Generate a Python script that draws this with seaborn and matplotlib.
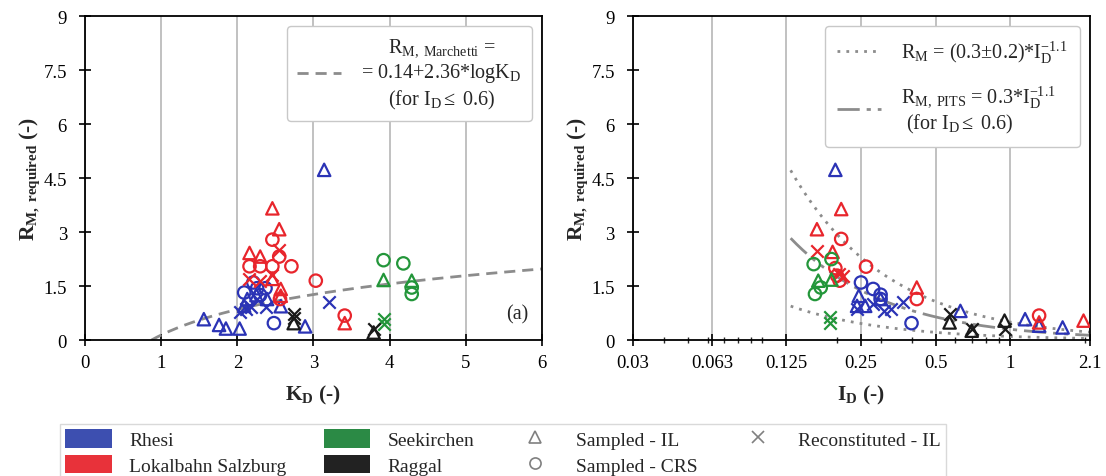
import matplotlib
matplotlib.use("Agg")
from matplotlib import pyplot as plt
from matplotlib.patches import Patch
from matplotlib.lines import Line2D
from matplotlib.ticker import FixedLocator, NullFormatter, LogLocator
import numpy as np
import pandas as pd
import seaborn as sns

# --- data ---
SITES = ["Rhesi", "Lokalbahn Salzburg", "Seekirchen", "Raggal"]
TESTS = ["Sampled - IL", "Sampled - CRS", "Reconstituted - IL"]
SITE_COLORS = ["#2b33b5", "#e8252c", "#23963a", "#1a1a1a"]
PATCH_COLORS = ["#3d4fb0", "#e8323a", "#2b8a45", "#222222"]
TEST_MARKERS = ["^", "o", "x"]

# panel (a): K_D vs R_M
KD = [1.56, 1.76, 1.85, 2.03, 2.57, 2.89, 3.14, 2.09, 2.13, 2.39, 2.25,
      2.48, 2.09, 2.26, 2.21, 2.37, 2.30,
      2.04, 2.18, 2.26, 2.37, 3.20, 2.12,
      2.46, 2.55, 2.16, 2.30, 2.46, 2.57, 2.57, 3.41,
      2.46, 2.55, 2.16, 2.30, 2.46, 2.71, 3.03, 2.56, 3.41,
      2.15, 2.30, 2.46, 2.55,
      3.92, 4.29,
      3.92, 4.18, 4.29, 4.29,
      3.92, 3.92,
      2.74, 3.79,
      2.74, 3.79, 2.74]
RM_A = [0.58, 0.42, 0.32, 0.32, 0.94, 0.38, 4.73, 0.95, 1.14, 1.14, 1.25,
        0.47, 1.32, 1.44, 1.60, 1.44, 1.25,
        0.77, 0.91, 1.14, 0.91, 1.06, 0.85,
        3.66, 3.08, 2.42, 2.32, 1.70, 1.42, 1.23, 0.47,
        2.79, 2.32, 2.05, 2.05, 2.05, 2.05, 1.65, 1.14, 0.68,
        1.69, 1.65, 1.80, 2.50,
        1.67, 1.65,
        2.22, 2.13, 1.46, 1.28,
        0.58, 0.44,
        0.47, 0.21,
        0.72, 0.30, 0.62]
SITE_A = ([0] * 23) + ([1] * 21) + ([2] * 8) + ([3] * 5)
TEST_A = ([0] * 11 + [1] * 6 + [2] * 6
          + [0] * 8 + [1] * 9 + [2] * 4
          + [0] * 2 + [1] * 4 + [2] * 2
          + [0] * 2 + [2] * 3)

# panel (b): I_D vs R_M
ID = [0.197, 0.241, 0.26, 0.245, 0.63, 1.15, 1.63, 1.31, 0.30,
      0.25, 0.28, 0.30, 0.40, 0.30,
      0.24, 0.28, 0.31, 0.33, 0.37,
      0.166, 0.208, 0.192, 0.42, 1.98, 1.31,
      0.208, 0.262, 0.197, 0.42, 1.31, 0.20, 0.205,
      0.166, 0.203, 0.211,
      0.168, 0.19,
      0.161, 0.19, 0.163, 0.172,
      0.188, 0.188,
      0.57, 0.70, 0.95,
      0.57, 0.70, 0.95]
RM_B = [4.73, 0.95, 0.95, 1.23, 0.81, 0.58, 0.35, 0.40, 1.14,
        1.60, 1.42, 1.26, 0.47, 1.14,
        0.86, 1.00, 0.81, 0.86, 1.06,
        3.08, 3.64, 2.45, 1.46, 0.54, 0.49,
        2.81, 2.04, 2.00, 1.14, 0.68, 1.79, 1.65,
        2.48, 1.83, 1.79,
        1.65, 1.68,
        2.11, 2.25, 1.28, 1.46,
        0.63, 0.47,
        0.49, 0.26, 0.54,
        0.72, 0.32, 0.31]
SITE_B = ([0] * 19) + ([1] * 16) + ([2] * 8) + ([3] * 6)
TEST_B = ([0] * 9 + [1] * 5 + [2] * 5
          + [0] * 6 + [1] * 7 + [2] * 3
          + [0] * 2 + [1] * 4 + [2] * 2
          + [0] * 3 + [2] * 3)

# fitted relations given in the legends
MARCHETTI_A, MARCHETTI_B = 0.14, 2.36
PITS_C, PITS_SPREAD, PITS_EXP = 0.3, 0.2, -1.1

X_TICKS_B = [0.03, 0.0625, 0.125, 0.25, 0.5, 1, 2.1]
X_LABELS_B = ["0.03", "0.063", "0.125", "0.25", "0.5", "1", "2.1"]
Y_TICKS = [0, 1.5, 3, 4.5, 6, 7.5, 9]
Y_LABELS = ["0", "1.5", "3", "4.5", "6", "7.5", "9"]

sns.set_style("white")
plt.rcParams["font.family"] = ["Liberation Serif", "DejaVu Serif"]
plt.rcParams["mathtext.fontset"] = "custom"
plt.rcParams["mathtext.rm"] = "Liberation Serif"
plt.rcParams["mathtext.it"] = "Liberation Serif:italic"
plt.rcParams["mathtext.bf"] = "Liberation Serif:bold"
plt.rcParams["font.size"] = 13

df_a = pd.DataFrame({"x": KD, "y": RM_A, "site": SITE_A, "test": TEST_A})
df_b = pd.DataFrame({"x": ID, "y": RM_B, "site": SITE_B, "test": TEST_B})

fig = plt.figure(figsize=(11.06, 4.77), dpi=100)
ax1 = fig.add_axes([0.0769, 0.285, 0.4131, 0.679])
ax2 = fig.add_axes([0.5723, 0.285, 0.4131, 0.679])


def draw_points(ax, df):
    for (s, t), g in df.groupby(["site", "test"]):
        c = SITE_COLORS[s]
        m = TEST_MARKERS[t]
        if m == "x":
            sns.scatterplot(x=g["x"], y=g["y"], ax=ax, marker="x", color=c,
                            s=80, linewidth=1.6, zorder=3)
        else:
            sns.scatterplot(x=g["x"], y=g["y"], ax=ax, marker=m, facecolor="none",
                            edgecolor=c, s=80, linewidth=1.6, zorder=3)


def style_axes(ax):
    ax.set_ylim(0, 9)
    ax.yaxis.set_major_locator(FixedLocator(Y_TICKS))
    ax.set_yticklabels(Y_LABELS)
    ax.grid(True, axis="x", color="#b0b0b0", lw=1.1, zorder=0)
    ax.grid(False, axis="y")
    for sp in ax.spines.values():
        sp.set_color("black")
        sp.set_linewidth(1.3)
        sp.set_visible(True)
    ax.tick_params(which="major", direction="inout", length=8, width=1.2,
                   labelsize=13.5, colors="black", bottom=True, left=True)
    ax.tick_params(axis="y", which="major", pad=9)
    ax.tick_params(axis="x", which="major", pad=6)
    ax.tick_params(which="minor", direction="inout", length=5, width=1.0, bottom=True)
    ax.set_ylabel(r"$\mathbf{R_{M,\ required}}$ (-)", fontweight="bold", fontsize=15.5,
                  labelpad=1)


# panel (a)
draw_points(ax1, df_a)
k = np.linspace(10 ** (-MARCHETTI_A / MARCHETTI_B), 6, 200)
ax1.plot(k, MARCHETTI_A + MARCHETTI_B * np.log10(k), ls=(0, (4, 2.5)),
         color="#8c8c8c", lw=2,
         label=r"$\mathrm{R_{M,\ Marchetti}}$ =" + "\n"
               + r"= 0.14+2.36*log$\mathrm{K_D}$" + "\n"
               + r"(for $\mathrm{I_D \leq}$ 0.6)")
ax1.set_xlim(0, 6)
ax1.set_xticks(range(7))
ax1.set_xlabel(r"$\mathbf{K_D}$ (-)", fontweight="bold", fontsize=15.5, labelpad=9)
style_axes(ax1)
leg1 = ax1.legend(loc="upper right", fontsize=14.5, handlelength=2.2, frameon=True,
                  edgecolor="#c8c8c8", framealpha=1, borderpad=0.5, handletextpad=1.0)
for t in leg1.get_texts():
    t.set_multialignment("center")
ax1.text(0.97, 0.05, "(a)", transform=ax1.transAxes, ha="right", va="bottom", fontsize=14.5)

# panel (b)
draw_points(ax2, df_b)
i = np.geomspace(0.13, 2.1, 200)
ax2.plot(i, (PITS_C + PITS_SPREAD) * i ** PITS_EXP, ls=(0, (1, 2.2)),
         color="#8c8c8c", lw=2,
         label=r"$\mathrm{R_M}$ = (0.3±0.2)*$\mathrm{I_D^{-1.1}}$")
ax2.plot(i, (PITS_C - PITS_SPREAD) * i ** PITS_EXP, ls=(0, (1, 2.2)),
         color="#8c8c8c", lw=2)
ax2.plot(i, PITS_C * i ** PITS_EXP, ls=(0, (8, 2.5, 1.5, 2.5, 1.5, 2.5)),
         color="#8c8c8c", lw=2,
         label=r"$\mathrm{R_{M,\ PITS}}$ = 0.3*$\mathrm{I_D^{-1.1}}$" + "\n"
               + r" (for $\mathrm{I_D \leq}$ 0.6)")
ax2.set_xscale("log")
ax2.set_xlim(0.03, 2.1)
ax2.xaxis.set_major_locator(FixedLocator(X_TICKS_B))
ax2.set_xticklabels(X_LABELS_B)
ax2.xaxis.set_minor_locator(LogLocator(base=10, subs=np.arange(1, 10)))
ax2.xaxis.set_minor_formatter(NullFormatter())
ax2.set_xlabel(r"$\mathbf{I_D}$ (-)", fontweight="bold", fontsize=15.5, labelpad=9)
style_axes(ax2)
ax2.legend(loc="upper right", fontsize=14.5, handlelength=2.2, frameon=True,
           edgecolor="#c8c8c8", framealpha=1, borderpad=0.6, labelspacing=0.9,
           handletextpad=1.0)

# shared legend below
handles = [Patch(facecolor=c, edgecolor="none") for c in PATCH_COLORS]
handles += [Line2D([], [], ls="none", marker=m, mfc="none", mec="#808080",
                   color="#808080", ms=8, mew=1.2) for m in TEST_MARKERS]
fig.legend(handles, SITES + TESTS, loc="upper center", bbox_to_anchor=(0.455, 0.109),
           ncol=4, fontsize=14, frameon=True, fancybox=False, edgecolor="#d0d0d0",
           handlelength=2.4, handleheight=1.1, handletextpad=0.9, columnspacing=1.9,
           borderpad=0.25, labelspacing=0.3, borderaxespad=0)

fig.savefig("out.png", dpi=100)
